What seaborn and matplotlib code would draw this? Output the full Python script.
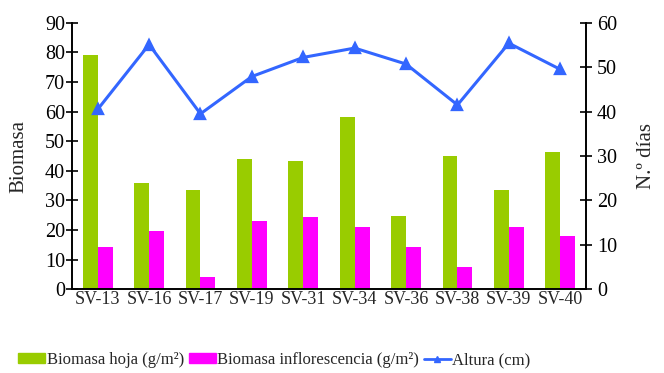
import numpy as np
import pandas as pd
import seaborn as sns
import matplotlib.pyplot as plt
from matplotlib.patches import Patch
from matplotlib.lines import Line2D

categories = ['SV-13', 'SV-16', 'SV-17', 'SV-19', 'SV-31', 'SV-34', 'SV-36', 'SV-38', 'SV-39', 'SV-40']
biomasa_hoja = [79.2, 36.0, 33.5, 44.0, 43.3, 58.1, 24.6, 45.0, 33.5, 46.3]
biomasa_infl = [14.4, 19.8, 4.3, 23.2, 24.5, 21.0, 14.2, 7.5, 21.0, 18.0]
altura = [40.5, 55.1, 39.5, 47.9, 52.2, 54.3, 50.7, 41.5, 55.4, 49.5]

serie_hoja = 'Biomasa hoja (g/m²)'
serie_infl = 'Biomasa inflorescencia (g/m²)'
serie_alt = 'Altura (cm)'

verde = '#99CC00'
magenta = '#FF00FF'
azul = '#3366FF'

sns.set_style('white')
plt.rcParams['font.family'] = ['Liberation Serif', 'DejaVu Serif']
plt.rcParams['font.size'] = 13

df = pd.DataFrame({
    'variedad': categories * 2,
    'valor': biomasa_hoja + biomasa_infl,
    'serie': [serie_hoja] * len(categories) + [serie_infl] * len(categories),
})
df_alt = pd.DataFrame({'variedad': categories, 'altura': altura})

fig = plt.figure(figsize=(6.64, 3.73), dpi=100)
ax = fig.add_axes([0.1084, 0.2244, 0.8825 - 0.1084, 0.939 - 0.2244])

sns.barplot(data=df, x='variedad', y='valor', hue='serie', order=categories,
            palette=[verde, magenta], saturation=1, width=0.58, linewidth=0, ax=ax)
ax.get_legend().remove()
ax.set_ylim(0, 90)
ax.set_yticks(range(0, 91, 10))
ax.set_xlim(-0.5, 9.5)
ax.set_xlabel('')
ax.set_ylabel('Biomasa', fontsize=15, labelpad=12)

ax2 = ax.twinx()
sns.pointplot(data=df_alt, x='variedad', y='altura', order=categories, color=azul,
              markers='^', markersize=7, linewidth=2.2, ax=ax2)
ax2.set_ylim(0, 60)
ax2.set_yticks(range(0, 61, 10))
ax2.set_xlim(-0.5, 9.5)
ax2.set_ylabel('N.º días', fontsize=15, labelpad=14)
ax2.set_xlabel('')

for a in (ax, ax2):
    a.spines['top'].set_visible(False)
    for s in ('left', 'right', 'bottom'):
        a.spines[s].set_color('black')
        a.spines[s].set_linewidth(1.2)
    a.tick_params(axis='y', direction='inout', length=8, width=1.2, labelsize=14.5, colors='black')
    a.tick_params(axis='x', length=0, labelsize=13, pad=1)
ax.tick_params(axis='y', pad=1)
ax2.tick_params(axis='y', pad=4)

handles = [Patch(color=verde, label=serie_hoja),
           Patch(color=magenta, label=serie_infl),
           Line2D([0], [0], color=azul, marker='^', markersize=5, linewidth=2, label=serie_alt)]
fig.legend(handles=handles, loc='center left', bbox_to_anchor=(0.005, 0.035), ncol=3,
           frameon=False, fontsize=12, handlelength=1.6, handleheight=0.5,
           handletextpad=0.1, columnspacing=0.3)

fig.savefig('out.png', dpi=100)
